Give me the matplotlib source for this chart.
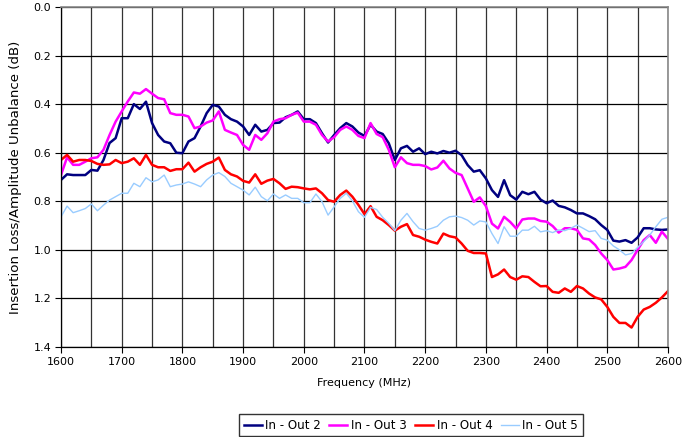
import numpy as np
import matplotlib
matplotlib.use('Agg')
import matplotlib.pyplot as plt
from matplotlib.ticker import MultipleLocator, FormatStrFormatter

# =========================
# Data (10 MHz steps)
# =========================
freq = np.arange(1600, 2601, 10)

out2 = [0.712, 0.689, 0.692, 0.692, 0.692, 0.671, 0.674, 0.63, 0.56, 0.54,
        0.458, 0.458, 0.40, 0.42, 0.39, 0.478, 0.527, 0.554, 0.561, 0.60,
        0.602, 0.554, 0.54, 0.492, 0.437, 0.403, 0.41, 0.444, 0.462, 0.472,
        0.492, 0.527, 0.485, 0.513, 0.506, 0.478, 0.476, 0.454, 0.444, 0.43,
        0.462, 0.462, 0.478, 0.52, 0.558, 0.527, 0.499, 0.478, 0.492, 0.517,
        0.531, 0.485, 0.513, 0.523, 0.561, 0.63, 0.582, 0.572, 0.596, 0.582,
        0.606, 0.596, 0.603, 0.593, 0.6, 0.592, 0.61, 0.651, 0.678, 0.672,
        0.706, 0.754, 0.782, 0.713, 0.775, 0.793, 0.761, 0.771, 0.761, 0.793,
        0.808, 0.797, 0.819, 0.825, 0.836, 0.85, 0.85, 0.861, 0.874, 0.898,
        0.918, 0.962, 0.966, 0.96, 0.971, 0.949, 0.911, 0.911, 0.916, 0.918,
        0.916]

out3 = [0.692, 0.619, 0.65, 0.65, 0.637, 0.623, 0.619, 0.588, 0.527, 0.472,
        0.43, 0.389, 0.352, 0.357, 0.338, 0.357, 0.375, 0.38, 0.437, 0.444,
        0.444, 0.451, 0.499, 0.492, 0.476, 0.467, 0.43, 0.506, 0.517, 0.527,
        0.568, 0.588, 0.527, 0.547, 0.52, 0.472, 0.462, 0.458, 0.444, 0.435,
        0.472, 0.472, 0.485, 0.527, 0.554, 0.536, 0.506, 0.492, 0.506, 0.531,
        0.54, 0.478, 0.523, 0.536, 0.588, 0.66, 0.619, 0.643, 0.65, 0.65,
        0.655, 0.669, 0.661, 0.633, 0.665, 0.683, 0.692, 0.747, 0.802, 0.784,
        0.82, 0.892, 0.912, 0.864, 0.885, 0.912, 0.875, 0.871, 0.871, 0.881,
        0.884, 0.902, 0.929, 0.911, 0.911, 0.918, 0.953, 0.957, 0.98, 1.015,
        1.042, 1.081, 1.077, 1.07, 1.042, 1.0, 0.96, 0.939, 0.971, 0.925,
        0.955]

out4 = [0.63, 0.609, 0.637, 0.63, 0.63, 0.634, 0.646, 0.65, 0.648, 0.63,
        0.643, 0.637, 0.623, 0.65, 0.609, 0.65, 0.66, 0.66, 0.675, 0.668,
        0.668, 0.641, 0.678, 0.66, 0.646, 0.637, 0.62, 0.671, 0.689, 0.698,
        0.716, 0.723, 0.689, 0.728, 0.715, 0.708, 0.726, 0.749, 0.74, 0.742,
        0.747, 0.751, 0.747, 0.767, 0.795, 0.802, 0.774, 0.756, 0.781, 0.815,
        0.853, 0.82, 0.864, 0.878, 0.898, 0.921, 0.905, 0.894, 0.939, 0.946,
        0.958, 0.967, 0.974, 0.933, 0.944, 0.949, 0.974, 1.004, 1.013, 1.013,
        1.015, 1.112, 1.101, 1.081, 1.112, 1.123, 1.109, 1.112, 1.132, 1.15,
        1.149, 1.173, 1.177, 1.159, 1.173, 1.149, 1.159, 1.18, 1.196, 1.204,
        1.235, 1.276, 1.301, 1.301, 1.32, 1.276, 1.246, 1.235, 1.218, 1.196,
        1.17]

out5 = [0.864, 0.82, 0.847, 0.839, 0.83, 0.811, 0.839, 0.816, 0.795, 0.781,
        0.767, 0.767, 0.726, 0.74, 0.703, 0.72, 0.712, 0.692, 0.74, 0.733,
        0.729, 0.72, 0.729, 0.74, 0.712, 0.692, 0.682, 0.698, 0.726, 0.74,
        0.754, 0.774, 0.742, 0.781, 0.798, 0.77, 0.788, 0.774, 0.788, 0.788,
        0.806, 0.806, 0.77, 0.802, 0.857, 0.823, 0.788, 0.767, 0.798, 0.843,
        0.866, 0.825, 0.834, 0.866, 0.891, 0.921, 0.878, 0.85, 0.884, 0.912,
        0.919, 0.912, 0.903, 0.878, 0.864, 0.861, 0.867, 0.878, 0.898, 0.881,
        0.885, 0.933, 0.974, 0.905, 0.944, 0.944, 0.919, 0.919, 0.903, 0.926,
        0.921, 0.929, 0.918, 0.921, 0.911, 0.898, 0.911, 0.925, 0.921, 0.953,
        0.96, 0.984, 1.0, 1.021, 1.015, 0.99, 0.966, 0.939, 0.905, 0.874,
        0.866]

labels = ['In - Out 2', 'In - Out 3', 'In - Out 4', 'In - Out 5']

# =========================
# Plot
# =========================
plt.rcParams['font.family'] = ['DejaVu Sans']

fig = plt.figure(figsize=(6.94, 4.37), dpi=100)
ax = fig.add_axes([0.0879, 0.206, 0.8746, 0.778])

ax.plot(freq, out2, color='#000080', lw=1.8, label=labels[0])
ax.plot(freq, out3, color='#FF00FF', lw=1.8, label=labels[1])
ax.plot(freq, out4, color='#FF0000', lw=1.8, label=labels[2])
ax.plot(freq, out5, color='#99CCFF', lw=1.0, label=labels[3])

ax.set_xlim(1600, 2600)
ax.set_ylim(1.4, 0.0)

ax.xaxis.set_major_locator(MultipleLocator(100))
ax.xaxis.set_minor_locator(MultipleLocator(50))
ax.yaxis.set_major_locator(MultipleLocator(0.2))
ax.yaxis.set_major_formatter(FormatStrFormatter('%.1f'))

ax.grid(which='both', axis='x', color='#333333', lw=0.9)
ax.grid(which='major', axis='y', color='black', lw=0.9)
ax.set_axisbelow(True)

ax.tick_params(axis='both', which='major', labelsize=8, length=4, width=0.8,
               color='black', direction='out', pad=3)
ax.tick_params(axis='x', which='minor', length=0)

for side in ['top', 'right']:
    ax.spines[side].set_color('#888888')
    ax.spines[side].set_linewidth(1.2)
for side in ['left', 'bottom']:
    ax.spines[side].set_color('black')
    ax.spines[side].set_linewidth(0.9)

ax.set_xlabel('Frequency (MHz)', fontsize=8, labelpad=8)
ax.set_ylabel('Insertion Loss/Amplitude Unbalance (dB)', fontsize=9.6, labelpad=8)

leg = fig.legend(loc='center', bbox_to_anchor=(0.592, 0.027), ncol=4, fontsize=8.6,
                 frameon=True, fancybox=False, handlelength=1.5, handletextpad=0.3,
                 columnspacing=0.7, borderpad=0.4, borderaxespad=0)
leg.get_frame().set_edgecolor('black')
leg.get_frame().set_linewidth(1.0)

fig.savefig('out.png', dpi=100)
